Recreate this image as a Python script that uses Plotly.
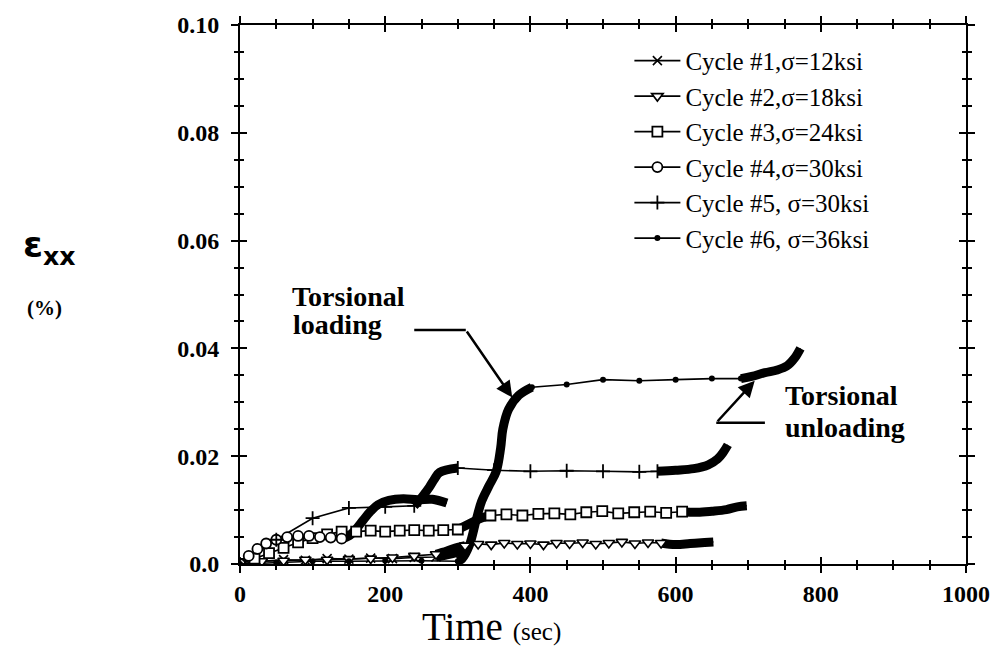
import plotly.graph_objects as go

# ---------------- data (time in sec, strain in %) ----------------
x_ticks = [0, 200, 400, 600, 800, 1000]
x_tick_labels = ["0", "200", "400", "600", "800", "1000"]
y_ticks = [0.0, 0.02, 0.04, 0.06, 0.08, 0.10]
y_tick_labels = ["0.0", "0.02", "0.04", "0.06", "0.08", "0.10"]

cycle_names = [
    "Cycle #1,\u03c3=12ksi",
    "Cycle #2,\u03c3=18ksi",
    "Cycle #3,\u03c3=24ksi",
    "Cycle #4,\u03c3=30ksi",
    "Cycle #5, \u03c3=30ksi",
    "Cycle #6, \u03c3=36ksi",
]

# Cycle 1
c1_t = [0, 30, 60, 90, 120, 150, 180, 210, 240, 270]
c1_e = [0.0, 0.0005, 0.0008, 0.0007, 0.0010, 0.0009, 0.0011, 0.0010, 0.0012, 0.0013]
c1_dense_t = [270, 285, 300, 312]
c1_dense_e = [0.0013, 0.0017, 0.0022, 0.0027]

# Cycle 2
c2_t = [0, 30, 60, 90, 120, 150, 180, 210, 240, 270, 310, 328, 346, 364, 382, 400,
        418, 436, 454, 472, 490, 508, 526, 544, 562, 580]
c2_e = [0.0, 0.0005, 0.0006, 0.0008, 0.0008, 0.0009, 0.0010, 0.0012, 0.0015, 0.0018,
        0.0034, 0.0037, 0.0036, 0.0039, 0.0037, 0.0038, 0.0036, 0.0039, 0.0038, 0.0040,
        0.0037, 0.0039, 0.0041, 0.0038, 0.0040, 0.0039]
c2_dense_t = [270, 285, 300, 310]
c2_dense_e = [0.0018, 0.0024, 0.0031, 0.0034]
c2_end_t = [580, 600, 620, 640, 652]
c2_end_e = [0.0039, 0.0036, 0.0038, 0.0040, 0.0041]

# Cycle 3
c3_t = [0, 20, 40, 60, 80, 100, 120, 140, 160, 180, 200, 220, 240, 260, 280, 300,
        345, 367, 389, 411, 433, 455, 477, 499, 521, 543, 565, 587, 609]
c3_e = [0.0, 0.0010, 0.0020, 0.0030, 0.0040, 0.0048, 0.0055, 0.0060, 0.0060, 0.0062,
        0.0060, 0.0062, 0.0063, 0.0062, 0.0063, 0.0064,
        0.0090, 0.0092, 0.0090, 0.0093, 0.0094, 0.0092, 0.0096, 0.0098, 0.0094, 0.0096,
        0.0097, 0.0095, 0.0097]
c3_dense_t = [300, 315, 330, 345]
c3_dense_e = [0.0064, 0.0074, 0.0084, 0.0090]
c3_end_t = [609, 630, 650, 670, 685, 698]
c3_end_e = [0.0097, 0.0096, 0.0098, 0.0101, 0.0106, 0.0108]

# Cycle 4
c4_t = [0, 12, 24, 36, 50, 65, 80, 95, 110, 125, 140]
c4_e = [0.0, 0.0015, 0.0028, 0.0038, 0.0045, 0.0050, 0.0052, 0.0052, 0.0050, 0.0049, 0.0047]
c4_dense_t = [140, 150, 160, 170, 180, 190, 205, 225, 245, 265, 285]
c4_dense_e = [0.0047, 0.0052, 0.0065, 0.0082, 0.0098, 0.0110, 0.0118, 0.0121, 0.0119, 0.0120, 0.0113]

# Cycle 5
c5_t = [0, 50, 100, 150, 200, 240, 300, 350, 400, 450, 500, 550, 575]
c5_e = [0.0, 0.0045, 0.0085, 0.0104, 0.0106, 0.0108,
        0.0178, 0.0174, 0.0172, 0.0173, 0.0172, 0.0171, 0.0172]
c5_dense_t = [240, 247, 254, 261, 268, 275, 300]
c5_dense_e = [0.0108, 0.0118, 0.0130, 0.0143, 0.0158, 0.0170, 0.0178]
c5_end_t = [575, 600, 625, 645, 658, 666, 672]
c5_end_e = [0.0172, 0.0174, 0.0177, 0.0184, 0.0195, 0.0208, 0.0221]

# Cycle 6
c6_t = [0, 50, 100, 150, 200, 250, 300, 402, 450, 500, 550, 600, 650, 690]
c6_e = [0.0, 0.0003, 0.0005, 0.0005, 0.0006, 0.0006, 0.0005,
        0.0328, 0.0333, 0.0342, 0.0340, 0.0342, 0.0344, 0.0344]
c6_dense_t = [300, 306, 316, 325, 333, 343, 353, 359, 362, 370, 384, 402]
c6_dense_e = [0.0005, 0.0010, 0.0035, 0.0080, 0.0117, 0.0145, 0.0172, 0.0215, 0.0250,
              0.0287, 0.0313, 0.0328]
c6_end_t = [690, 705, 723, 740, 754, 764, 772]
c6_end_e = [0.0344, 0.0348, 0.0355, 0.0360, 0.0368, 0.0382, 0.0400]

# ---------------- styling ----------------
serif = "Liberation Serif"
ink = "black"

marker_styles = [
    dict(symbol="x-thin-open", size=9, line=dict(width=1.6, color=ink), color=ink),
    dict(symbol="triangle-down", size=10, line=dict(width=1.6, color=ink), color="white"),
    dict(symbol="square", size=10, line=dict(width=1.8, color=ink), color="white"),
    dict(symbol="circle", size=10, line=dict(width=1.8, color=ink), color="white"),
    dict(symbol="cross-thin-open", size=10, line=dict(width=1.8, color=ink), color=ink),
    dict(symbol="circle", size=6, line=dict(width=0, color=ink), color=ink),
]

series = [
    (c1_t, c1_e, [(c1_dense_t, c1_dense_e)]),
    (c2_t, c2_e, [(c2_dense_t, c2_dense_e), (c2_end_t, c2_end_e)]),
    (c3_t, c3_e, [(c3_dense_t, c3_dense_e), (c3_end_t, c3_end_e)]),
    (c4_t, c4_e, [(c4_dense_t, c4_dense_e)]),
    (c5_t, c5_e, [(c5_dense_t, c5_dense_e), (c5_end_t, c5_end_e)]),
    (c6_t, c6_e, [(c6_dense_t, c6_dense_e), (c6_end_t, c6_end_e)]),
]

fig = go.Figure()

# dense (closely sampled) stretches read as heavy strokes
for t, e, dense in series:
    for dt, de in dense:
        fig.add_trace(go.Scatter(
            x=dt, y=de, mode="lines",
            line=dict(color=ink, width=9, shape="spline"),
            showlegend=False, hoverinfo="skip",
        ))

# thin line joining sparse readings and dense stretches in time order
for i, (t, e, dense) in enumerate(series):
    pts = sorted(list(zip(t, e)) + [p for dt, de in dense for p in zip(dt, de)])
    fig.add_trace(go.Scatter(
        x=[p[0] for p in pts], y=[p[1] for p in pts], mode="lines",
        line=dict(color=ink, width=1.6),
        showlegend=False, hoverinfo="skip",
    ))

# sampled readings with symbols, plus legend entries
for i, (t, e, dense) in enumerate(series):
    fig.add_trace(go.Scatter(
        x=t, y=e, mode="markers", name=cycle_names[i],
        marker=marker_styles[i], legendgroup=str(i), showlegend=False,
    ))
    fig.add_trace(go.Scatter(
        x=[None], y=[None], mode="lines+markers", name=cycle_names[i],
        line=dict(color=ink, width=1.6), marker=marker_styles[i],
        legendgroup=str(i),
    ))

# inner tick set (overlay axes) so ticks cross the frame
fig.add_trace(go.Scatter(x=[None], y=[None], xaxis="x2", yaxis="y2",
                         showlegend=False, hoverinfo="skip"))

L, R, T, B = 240, 969, 19, 564
W, H = 1002, 653


def px(x):
    return (x - L) / (R - L)


def py(y):
    return (B - y) / (B - T)


tick_font = dict(family=serif, size=24, color=ink)

fig.update_layout(
    width=W, height=H,
    margin=dict(l=L, r=W - R, t=T, b=H - B, pad=0),
    paper_bgcolor="white", plot_bgcolor="white",
    showlegend=True,
    legend=dict(
        x=px(631), y=py(32), xanchor="left", yanchor="top",
        font=dict(family=serif, size=25, color=ink),
        bgcolor="rgba(0,0,0,0)", borderwidth=0,
        itemwidth=46, tracegroupgap=0,
    ),
    xaxis=dict(
        range=[0, 1000], tickmode="array", tickvals=x_ticks,
        ticktext=["<b>%s</b>" % s for s in x_tick_labels],
        ticks="outside", ticklen=7, tickwidth=2, tickcolor=ink,
        showline=True, linecolor=ink, linewidth=2, mirror="allticks",
        showgrid=False, zeroline=False, tickfont=tick_font,
        minor=dict(tickmode="linear", tick0=0, dtick=50, ticks="outside",
                   ticklen=4, tickwidth=1.6, tickcolor=ink, showgrid=False),
    ),
    yaxis=dict(
        range=[0, 0.1], tickmode="array", tickvals=y_ticks,
        ticktext=["<b>%s</b>" % s for s in y_tick_labels],
        ticks="outside", ticklen=7, tickwidth=2, tickcolor=ink,
        showline=True, linecolor=ink, linewidth=2, mirror="allticks",
        showgrid=False, zeroline=False, tickfont=tick_font,
        ticklabelstandoff=7,
        minor=dict(tickmode="linear", tick0=0, dtick=0.005, ticks="outside",
                   ticklen=4, tickwidth=1.6, tickcolor=ink, showgrid=False),
    ),
    xaxis2=dict(
        overlaying="x", anchor="y2", matches="x", range=[0, 1000],
        tickmode="array", tickvals=x_ticks, showticklabels=False,
        ticks="inside", ticklen=7, tickwidth=2, tickcolor=ink,
        showline=False, mirror="allticks", showgrid=False, zeroline=False,
        minor=dict(tickmode="linear", tick0=0, dtick=50, ticks="inside",
                   ticklen=4, tickwidth=1.6, tickcolor=ink, showgrid=False),
    ),
    yaxis2=dict(
        overlaying="y", anchor="x2", matches="y", range=[0, 0.1],
        tickmode="array", tickvals=y_ticks, showticklabels=False,
        ticks="inside", ticklen=7, tickwidth=2, tickcolor=ink,
        showline=False, mirror="allticks", showgrid=False, zeroline=False,
        minor=dict(tickmode="linear", tick0=0, dtick=0.005, ticks="inside",
                   ticklen=4, tickwidth=1.6, tickcolor=ink, showgrid=False),
    ),
)

# axis titles
fig.add_annotation(
    x=px(20), y=py(244), xref="paper", yref="paper", xanchor="left", yanchor="middle",
    text="<b>\u03b5<sub>xx</sub></b>", showarrow=False,
    font=dict(family="DejaVu Sans", size=36, color=ink),
)
fig.add_annotation(
    x=px(24), y=py(305), xref="paper", yref="paper", xanchor="left", yanchor="middle",
    text="<b>(%)</b>", showarrow=False,
    font=dict(family=serif, size=21, color=ink),
)
fig.add_annotation(
    x=px(421), y=py(627), xref="paper", yref="paper", xanchor="left", yanchor="middle",
    text="Time <span style='font-size:25px'>(sec)</span>", showarrow=False,
    font=dict(family=serif, size=39, color=ink),
)

# callouts
ann_font = dict(family=serif, size=28, color=ink)
for txt, x0, y0 in [("<b>Torsional</b>", 290, 294), ("<b>loading</b>", 291, 322),
                    ("<b>Torsional</b>", 785, 394), ("<b>unloading</b>", 785, 426)]:
    fig.add_annotation(x=px(x0), y=py(y0), xref="paper", yref="paper",
                       xanchor="left", yanchor="middle", text=txt,
                       showarrow=False, font=ann_font)

# leader lines: horizontal run then arrow into the curve
fig.add_shape(type="line", x0=240, x1=311, y0=0.0434, y1=0.0434,
              xref="x", yref="y", line=dict(color=ink, width=2.5))
fig.add_annotation(x=375, y=0.0309, ax=311, ay=0.0434, axref="x", ayref="y",
                   xref="x", yref="y", text="", showarrow=True,
                   arrowhead=2, arrowsize=1.3, arrowwidth=2.5, arrowcolor=ink)
fig.add_shape(type="line", x0=656, x1=723, y0=0.0262, y1=0.0262,
              xref="x", yref="y", line=dict(color=ink, width=2.5))
fig.add_annotation(x=709, y=0.0340, ax=656, ay=0.0262, axref="x", ayref="y",
                   xref="x", yref="y", text="", showarrow=True,
                   arrowhead=2, arrowsize=1.3, arrowwidth=2.5, arrowcolor=ink)

fig.write_html("out.html")
